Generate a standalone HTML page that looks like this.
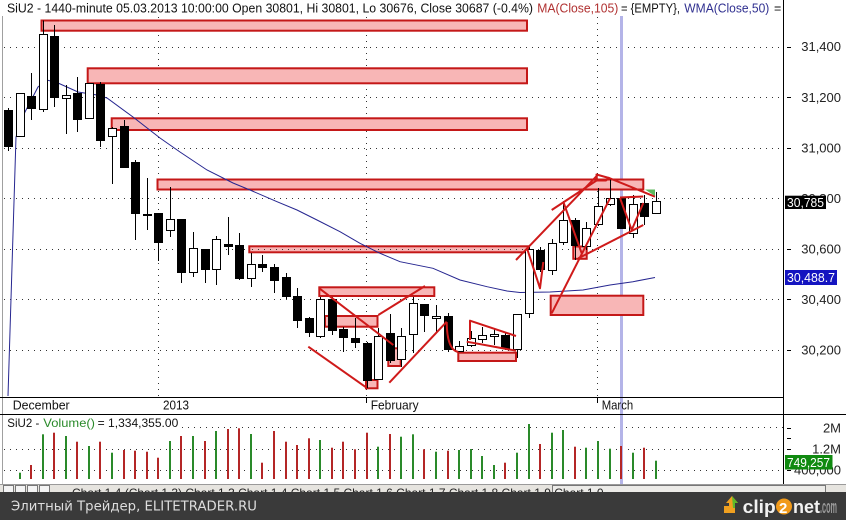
<!DOCTYPE html>
<html><head><meta charset="utf-8"><style>
html,body{margin:0;padding:0;background:#fff;}
svg{display:block;}
.t{font-family:"Liberation Sans",Arial,sans-serif;}
.b{fill:#000;stroke:#000;stroke-width:1}
.w{fill:#fff;stroke:#000;stroke-width:1}
.rr{fill:#f8b6b6;stroke:#c41818;stroke-width:2}
.rl{fill:none;stroke:#cf1a1a;stroke-width:2;stroke-linejoin:round}
.g{fill:#2a8a2a}.r{fill:#b42626}
</style></head><body>
<svg width="846" height="520" viewBox="0 0 846 520" xmlns="http://www.w3.org/2000/svg">
<rect x="0" y="0" width="846" height="520" fill="#fff"/>
<!-- header -->
<g class="t" font-size="12.5">
<text x="7" y="12.5" textLength="526" lengthAdjust="spacingAndGlyphs" fill="#111">SiU2 - 1440-minute 05.03.2013 10:00:00 Open 30801, Hi 30801, Lo 30676, Close 30687 (-0.4%)</text>
<text x="537.3" y="12.5" textLength="81" lengthAdjust="spacingAndGlyphs" fill="#b03030">MA(Close,105)</text>
<text x="621" y="12.5" textLength="59" lengthAdjust="spacingAndGlyphs" fill="#111">= {EMPTY},</text>
<text x="684.3" y="12.5" textLength="85" lengthAdjust="spacingAndGlyphs" fill="#303090">WMA(Close,50)</text>
<text x="774" y="12.5" fill="#111">=</text>
</g>
<!-- left border -->
<line x1="2.5" y1="16" x2="2.5" y2="484" stroke="#a0a0a0"/>
<!-- grid -->
<g stroke="#333" stroke-width="1" stroke-dasharray="1,5">
<line x1="4" y1="47.5" x2="783" y2="47.5"/>
<line x1="4" y1="97.5" x2="783" y2="97.5"/>
<line x1="4" y1="148.5" x2="783" y2="148.5"/>
<line x1="4" y1="198.5" x2="783" y2="198.5"/>
<line x1="4" y1="249.5" x2="783" y2="249.5"/>
<line x1="4" y1="299.5" x2="783" y2="299.5"/>
<line x1="4" y1="350.5" x2="783" y2="350.5"/>
<line x1="158.5" y1="17" x2="158.5" y2="397"/>
<line x1="366.5" y1="17" x2="366.5" y2="397"/>
<line x1="597.5" y1="17" x2="597.5" y2="397"/>
<line x1="182" y1="427.5" x2="783" y2="427.5"/>
<line x1="4" y1="449.5" x2="783" y2="449.5"/>
<line x1="4" y1="470.5" x2="783" y2="470.5"/>
</g>
<!-- highlight vertical -->
<rect x="620" y="16" width="3" height="468" fill="#b4b4e8"/>
<!-- rectangles -->
<g class="rr">
<rect x="41.5" y="20.5" width="485.5" height="10.2"/>
<rect x="87.7" y="68.3" width="439.3" height="15"/>
<rect x="111.7" y="118.3" width="415.3" height="11.7"/>
<rect x="157.5" y="179.5" width="485.8" height="10"/>
<rect x="249.3" y="246.3" width="278.7" height="6"/>
<rect x="319.3" y="287.3" width="115" height="8.7"/>
<rect x="325" y="316" width="52.5" height="10.7"/>
<rect x="366" y="380" width="11.5" height="8.3"/>
<rect x="388.3" y="348.3" width="12.4" height="17.7"/>
<rect x="458.3" y="352.7" width="57.7" height="8.3"/>
<rect x="550.7" y="295.7" width="92.6" height="19.3"/>
<rect x="573.3" y="246.5" width="13.4" height="12.3"/>
</g>
<line x1="252" y1="249.5" x2="526" y2="249.5" stroke="#333" stroke-dasharray="1,5"/>
<!-- WMA -->
<polyline fill="none" stroke="#262690" stroke-width="1" points="8,396 16,137 25,112 38,87 47,80 58,83 78,92 97,95 107,98 133,117 160,138 180,152 207,170 233,183 250,190 277,201.7 297,210 317,220 340,231.7 360,243.3 380,253.3 400,261.7 433,268.3 460,280 487,286.7 507,291 520,292.5 550,292 583,290 610,285 633,281.7 655,277.5"/>
<!-- wicks -->
<path fill="none" stroke="#000" stroke-width="1" d="M8.5 108V151M20.5 93V137M31.5 73V120M43.5 20.5V112M54.5 25V107M66.5 85V134M77.5 77V132M89.5 83V118M100.5 82V147M112.5 127V184M124.5 120V168M135.5 160V240M147.5 178V230M158.5 213V261M170.5 187V237M181.5 219V283M193.5 232V277M205.5 249V283M216.5 236V285M228.5 217V255M239.5 233V280M251.5 253V287M262.5 255V272M274.5 264V293M286.5 273V299M297.5 288V328M309.5 317V337M320.5 297V338M332.5 297V335M343.5 327V352M355.5 318V348M367.5 342V388M378.5 328V380M390.5 314V363M401.5 328V367M413.5 297V353M424.5 304V332M436.5 305V332M448.5 313V352M459.5 341V351M471.5 331V347M482.5 327V343M494.5 329V345M505.5 333V350M517.5 314V358M529.5 245V318M540.5 247V272M552.5 239V275M563.5 201V245M575.5 218V260M586.5 222V250M598.5 188V226M610.5 178V206M621.5 198V229M633.5 195V238M644.5 195V225M656.5 192V213"/>
<!-- black bodies -->
<g class="b">
<rect x="4.5" y="110.5" width="8" height="36"/>
<rect x="27.5" y="96.5" width="8" height="12"/>
<rect x="50.5" y="36.5" width="8" height="61"/>
<rect x="73.5" y="93.5" width="8" height="26"/>
<rect x="96.5" y="84.5" width="8" height="56"/>
<rect x="120.5" y="126.5" width="8" height="41"/>
<rect x="131.5" y="162.5" width="8" height="51"/>
<rect x="143.5" y="214.5" width="8" height="1"/>
<rect x="154.5" y="213.5" width="8" height="29"/>
<rect x="177.5" y="219.5" width="8" height="53"/>
<rect x="201.5" y="249.5" width="8" height="20"/>
<rect x="224.5" y="244.5" width="8" height="2"/>
<rect x="235.5" y="245.5" width="8" height="33"/>
<rect x="258.5" y="264.5" width="8" height="3"/>
<rect x="270.5" y="267.5" width="8" height="13"/>
<rect x="282.5" y="277.5" width="8" height="19"/>
<rect x="293.5" y="296.5" width="8" height="24"/>
<rect x="305.5" y="318.5" width="8" height="14"/>
<rect x="328.5" y="299.5" width="8" height="31"/>
<rect x="339.5" y="329.5" width="8" height="8"/>
<rect x="351.5" y="338.5" width="8" height="4"/>
<rect x="363.5" y="343.5" width="8" height="37"/>
<rect x="386.5" y="333.5" width="8" height="27"/>
<rect x="420.5" y="304.5" width="8" height="11"/>
<rect x="444.5" y="316.5" width="8" height="33"/>
<rect x="501.5" y="335.5" width="8" height="13"/>
<rect x="536.5" y="250.5" width="8" height="19"/>
<rect x="571.5" y="220.5" width="8" height="25"/>
<rect x="617.5" y="198.5" width="8" height="30"/>
<rect x="640.5" y="203.5" width="8" height="13"/>
</g>
<!-- white bodies -->
<g class="w">
<rect x="16.5" y="93.5" width="8" height="43"/>
<rect x="39.5" y="34.5" width="8" height="75"/>
<rect x="62.5" y="95.5" width="8" height="3"/>
<rect x="85.5" y="83.5" width="8" height="35"/>
<rect x="108.5" y="128.5" width="8" height="8"/>
<rect x="166.5" y="219.5" width="8" height="11"/>
<rect x="189.5" y="248.5" width="8" height="24"/>
<rect x="212.5" y="239.5" width="8" height="30"/>
<rect x="247.5" y="264.5" width="8" height="14"/>
<rect x="316.5" y="299.5" width="8" height="37"/>
<rect x="374.5" y="336.5" width="8" height="43"/>
<rect x="397.5" y="336.5" width="8" height="23"/>
<rect x="409.5" y="303.5" width="8" height="31"/>
<rect x="432.5" y="316.5" width="8" height="2"/>
<rect x="455.5" y="346.5" width="8" height="5"/>
<rect x="467.5" y="338.5" width="8" height="7"/>
<rect x="478.5" y="335.5" width="8" height="4"/>
<rect x="490.5" y="334.5" width="8" height="2"/>
<rect x="513.5" y="314.5" width="8" height="35"/>
<rect x="525.5" y="249.5" width="8" height="64"/>
<rect x="548.5" y="243.5" width="8" height="27"/>
<rect x="559.5" y="220.5" width="8" height="22"/>
<rect x="582.5" y="228.5" width="8" height="18"/>
<rect x="594.5" y="206.5" width="8" height="18"/>
<rect x="606.5" y="198.5" width="8" height="6"/>
<rect x="629.5" y="204.5" width="8" height="29"/>
<rect x="652.5" y="201.5" width="8" height="12"/>
</g>
<!-- red annotation lines -->
<g class="rl">
<line x1="319.3" y1="288.3" x2="393.3" y2="345"/>
<line x1="378.3" y1="315" x2="425" y2="286"/>
<line x1="308.3" y1="346.7" x2="366" y2="387.3"/>
<line x1="389.3" y1="382.7" x2="446.7" y2="321.7"/>
<path d="M446.7 322 Q447 350 458.3 352"/>
<polyline points="516,336 470,320.7 470,340"/>
<line x1="466.7" y1="341.7" x2="516" y2="350.7"/>
<line x1="516" y1="260" x2="598.3" y2="174.3"/>
<polygon points="596.5,174.5 609,178 606,180.5 597,180.5"/>
<line x1="608.3" y1="177.7" x2="655" y2="196.7"/>
<line x1="551.7" y1="210" x2="597.3" y2="180"/>
<line x1="563.3" y1="201.7" x2="581.7" y2="253.3"/>
<line x1="551.7" y1="313.3" x2="610" y2="198.3"/>
<line x1="578.3" y1="258.3" x2="643.3" y2="225"/>
<polyline points="620,198 631.7,230 643.3,203"/>
<line x1="620" y1="197.5" x2="643.3" y2="196.5"/>
<polyline points="527,248.3 540,288.3 543.3,262"/>
</g>
<polygon points="645,189.5 655,189.5 655,196" fill="#5cb85c"/>
<!-- right axis -->
<line x1="783.5" y1="0" x2="783.5" y2="484" stroke="#000"/>
<g stroke="#000">
<line x1="787" y1="47.5" x2="791" y2="47.5"/>
<line x1="787" y1="97.5" x2="791" y2="97.5"/>
<line x1="787" y1="148.5" x2="791" y2="148.5"/>
<line x1="787" y1="198.5" x2="791" y2="198.5"/>
<line x1="787" y1="249.5" x2="791" y2="249.5"/>
<line x1="787" y1="299.5" x2="791" y2="299.5"/>
<line x1="787" y1="350.5" x2="791" y2="350.5"/>
<line x1="787" y1="428.5" x2="791" y2="428.5"/>
<line x1="787" y1="438.5" x2="791" y2="438.5"/>
<line x1="787" y1="449.5" x2="791" y2="449.5"/>
<line x1="787" y1="470.5" x2="791" y2="470.5"/>
</g>
<g class="t" font-size="13" fill="#222" text-anchor="end">
<text x="841" y="51">31,400</text>
<text x="841" y="102">31,200</text>
<text x="841" y="152.5">31,000</text>
<text x="841" y="203">30,800</text>
<text x="841" y="253.5">30,600</text>
<text x="841" y="304">30,400</text>
<text x="841" y="354.5">30,200</text>
<text x="841" y="432.5">2M</text>
<text x="841" y="453.5">1.2M</text>
<text x="841" y="474.5">400,000</text>
</g>
<rect x="785" y="195.7" width="41" height="13.3" fill="#000"/>
<text class="t" x="787" y="207" font-size="13" fill="#fff" textLength="37" lengthAdjust="spacingAndGlyphs">30,785</text>
<rect x="785" y="270" width="52" height="15" fill="#1414c0"/>
<text class="t" x="787" y="282" font-size="13" fill="#fff" textLength="48" lengthAdjust="spacingAndGlyphs">30,488.7</text>
<rect x="785" y="455" width="47.5" height="14.5" fill="#108a10"/>
<text class="t" x="787" y="467" font-size="13" fill="#fff" textLength="43" lengthAdjust="spacingAndGlyphs">749,257</text>
<!-- date axis -->
<line x1="0" y1="397.5" x2="783" y2="397.5" stroke="#000"/>
<line x1="0" y1="414.5" x2="846" y2="414.5" stroke="#000"/>
<line x1="366.5" y1="398" x2="366.5" y2="403" stroke="#000"/>
<line x1="597.5" y1="398" x2="597.5" y2="403" stroke="#000"/>
<g class="t" font-size="12.5" fill="#111">
<text x="12.7" y="409.3" textLength="57" lengthAdjust="spacingAndGlyphs">December</text>
<text x="163" y="409.3" textLength="26" lengthAdjust="spacingAndGlyphs">2013</text>
<text x="370.7" y="409.3" textLength="48" lengthAdjust="spacingAndGlyphs">February</text>
<text x="601.7" y="409.3" textLength="31.5" lengthAdjust="spacingAndGlyphs">March</text>
</g>
<!-- volume title -->
<g class="t" font-size="12">
<text x="7.3" y="427" fill="#111" textLength="32" lengthAdjust="spacingAndGlyphs">SiU2 -</text>
<text x="43.3" y="427" fill="#2a8a2a" textLength="51.7" lengthAdjust="spacingAndGlyphs">Volume()</text>
<text x="97.7" y="427" fill="#111" textLength="80.6" lengthAdjust="spacingAndGlyphs">= 1,334,355.00</text>
</g>
<!-- volume bars -->
<g>
<rect class="g" x="19" y="472.7" width="2" height="6.3"/>
<rect class="r" x="30" y="465" width="2" height="14"/>
<rect class="g" x="42" y="434.3" width="2" height="44.7"/>
<rect class="r" x="53" y="432.7" width="2" height="46.3"/>
<rect class="g" x="65" y="436" width="2" height="43"/>
<rect class="r" x="76" y="441.7" width="2" height="37.3"/>
<rect class="g" x="88" y="446" width="2" height="33"/>
<rect class="r" x="99" y="441.7" width="2" height="37.3"/>
<rect class="g" x="111" y="452.7" width="2" height="26.3"/>
<rect class="r" x="123" y="450" width="2" height="29"/>
<rect class="r" x="134" y="450.7" width="2" height="28.3"/>
<rect class="r" x="146" y="451.7" width="2" height="27.3"/>
<rect class="r" x="157" y="457.7" width="2" height="21.3"/>
<rect class="g" x="169" y="441" width="2" height="38"/>
<rect class="r" x="180" y="436" width="2" height="43"/>
<rect class="g" x="192" y="436" width="2" height="43"/>
<rect class="r" x="204" y="441" width="2" height="38"/>
<rect class="g" x="215" y="431" width="2" height="48"/>
<rect class="r" x="227" y="429" width="2" height="50"/>
<rect class="r" x="238" y="428.3" width="2" height="50.7"/>
<rect class="g" x="250" y="434" width="2" height="45"/>
<rect class="r" x="261" y="462.7" width="2" height="16.3"/>
<rect class="r" x="273" y="431" width="2" height="48"/>
<rect class="r" x="285" y="441.7" width="2" height="37.3"/>
<rect class="r" x="296" y="445" width="2" height="34"/>
<rect class="r" x="308" y="438.3" width="2" height="40.7"/>
<rect class="g" x="319" y="440" width="2" height="39"/>
<rect class="r" x="331" y="447.7" width="2" height="31.3"/>
<rect class="r" x="342" y="441.7" width="2" height="37.3"/>
<rect class="r" x="354" y="449.3" width="2" height="29.7"/>
<rect class="r" x="366" y="432.7" width="2" height="46.3"/>
<rect class="g" x="377" y="446.7" width="2" height="32.3"/>
<rect class="r" x="389" y="434" width="2" height="45"/>
<rect class="g" x="400" y="436.7" width="2" height="42.3"/>
<rect class="g" x="412" y="434.3" width="2" height="44.7"/>
<rect class="r" x="423" y="449.3" width="2" height="29.7"/>
<rect class="g" x="435" y="451.7" width="2" height="27.3"/>
<rect class="r" x="447" y="450.7" width="2" height="28.3"/>
<rect class="g" x="458" y="450" width="2" height="29"/>
<rect class="g" x="470" y="449" width="2" height="30"/>
<rect class="g" x="481" y="456" width="2" height="23"/>
<rect class="g" x="493" y="465" width="2" height="14"/>
<rect class="r" x="504" y="462.7" width="2" height="16.3"/>
<rect class="g" x="516" y="452.7" width="2" height="26.3"/>
<rect class="g" x="528" y="424" width="2" height="55"/>
<rect class="r" x="539" y="444" width="2" height="35"/>
<rect class="g" x="551" y="432.7" width="2" height="46.3"/>
<rect class="g" x="562" y="430" width="2" height="49"/>
<rect class="r" x="574" y="446.7" width="2" height="32.3"/>
<rect class="g" x="585" y="447.7" width="2" height="31.3"/>
<rect class="g" x="597" y="441" width="2" height="38"/>
<rect class="g" x="609" y="448.7" width="2" height="30.3"/>
<rect class="r" x="620" y="446" width="2" height="33"/>
<rect class="g" x="632" y="452.7" width="2" height="26.3"/>
<rect class="r" x="643" y="447.7" width="2" height="31.3"/>
<rect class="g" x="655" y="460.7" width="2" height="18.3"/>
</g>
<!-- tab strip -->
<rect x="0" y="484" width="846" height="8" fill="#e6e4df"/>
<line x1="0" y1="484.5" x2="846" y2="484.5" stroke="#9a9a9a"/>
<g stroke="#777" fill="#f4f4f4">
<rect x="3.5" y="485.5" width="10" height="7"/>
<rect x="15.5" y="485.5" width="10" height="7"/>
<rect x="27.5" y="485.5" width="10" height="7"/>
<rect x="39.5" y="485.5" width="10" height="7"/>
<rect x="552.5" y="485.5" width="273" height="7" fill="#ecebe8"/>
</g>
<svg x="0" y="484" width="846" height="8" overflow="hidden">
<text class="t" x="72" y="13" font-size="12" fill="#222">Chart 1 4  (Chart 1 3)  Chart 1 3  Chart 1 4  Chart 1 5  Chart 1 6  Chart 1 7  Chart 1 8  Chart 1 9   Chart 1 0</text>
</svg>
<!-- footer -->
<rect x="0" y="492" width="846" height="28" fill="#3a3a3a"/>
<text x="11" y="510.5" font-family="'DejaVu Sans','Liberation Sans',sans-serif" font-size="13" fill="#dedede" textLength="246" lengthAdjust="spacingAndGlyphs">Элитный Трейдер, ELITETRADER.RU</text>
<!-- clip2net logo -->
<polygon points="724,513 724,506 729,506 729,503 726,503 732,496 738,503 735,503 735,513" fill="#f0a020"/>
<polygon points="732,496 738,503 735,503 735,508 733,508" fill="#5fb82a"/>
<g font-family="'Liberation Sans',Arial,sans-serif" font-weight="bold" font-size="18">
<text x="742.7" y="513" fill="#f2f2f2" textLength="33" lengthAdjust="spacingAndGlyphs">clip</text>
<circle cx="784" cy="506.5" r="8" fill="#f19a1a"/>
<text x="779" y="513" fill="#fff" font-size="15">2</text>
<text x="793" y="513" fill="#f2f2f2" textLength="27" lengthAdjust="spacingAndGlyphs">net</text>
<text x="820" y="513" fill="#9a9a9a" textLength="17" lengthAdjust="spacingAndGlyphs">.com</text>
</g>
</svg>
</body></html>
